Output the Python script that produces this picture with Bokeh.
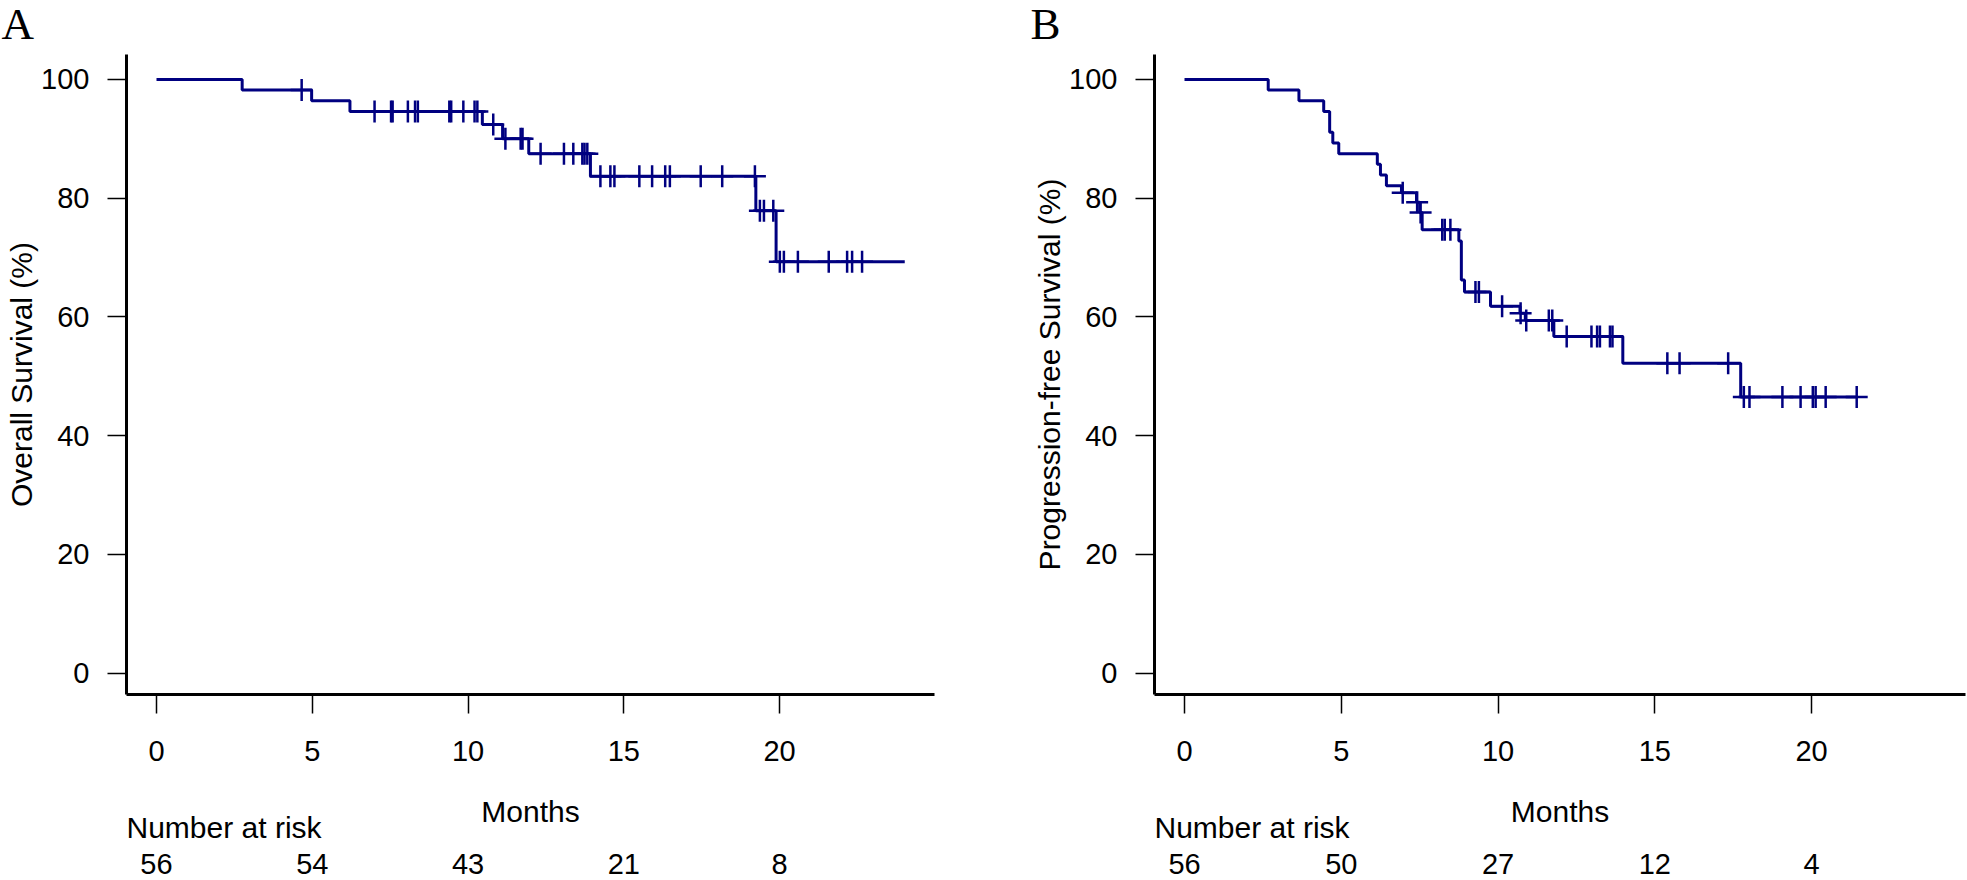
import bisect
from bokeh.plotting import figure
from bokeh.models import Range1d, FixedTicker
from bokeh.layouts import row, column
from bokeh.embed import file_html
from bokeh.resources import INLINE
from bokeh.core.properties import value

# ---------------- data ----------------
x_ticks = [0, 5, 10, 15, 20]
y_ticks = [0, 20, 40, 60, 80, 100]
panel_letters = ["A", "B"]

# Panel A: overall survival (Kaplan-Meier steps)
os_step_months = [0, 2.75, 4.98, 6.21, 10.46, 11.11, 11.95, 13.93, 19.24, 19.89]
os_step_surv = [100, 98.2, 96.4, 94.6, 92.4, 90.0, 87.5, 83.7, 77.9, 69.3]
os_last_month = 24.02
os_censor_months = [4.66, 7.00, 7.53, 7.58, 8.07, 8.30, 8.39, 9.40, 9.46, 9.85,
                    10.21, 10.30, 10.81, 11.20, 11.69, 11.75, 12.33, 13.08, 13.38,
                    13.67, 13.74, 13.83, 14.25, 14.57, 14.70, 15.50, 15.91, 16.33,
                    16.48, 17.47, 18.16, 19.21, 19.37, 19.50, 19.80, 20.01, 20.14,
                    20.59, 21.58, 22.17, 22.33, 22.65]
os_risk_months = [0, 5, 10, 15, 20]
os_at_risk = [56, 54, 43, 21, 8]

# Panel B: progression-free survival
pfs_step_months = [0, 2.67, 3.65, 4.44, 4.63, 4.73, 4.92, 6.15, 6.25, 6.44, 6.92,
                   7.40, 7.50, 7.58, 8.75, 8.83, 8.93, 9.76, 10.70, 10.87, 11.78,
                   13.98, 17.74]
pfs_step_surv = [100, 98.2, 96.4, 94.6, 91.1, 89.3, 87.5, 85.7, 83.9, 82.1, 80.9,
                 79.3, 77.6, 74.7, 72.8, 66.2, 64.2, 61.8, 60.6, 59.4, 56.7, 52.2, 46.5]
pfs_last_month = 21.44
pfs_censor_months = [6.96, 7.42, 7.53, 8.22, 8.30, 8.48, 9.28, 9.39, 10.13, 10.72,
                     10.90, 11.62, 11.73, 12.19, 12.98, 13.16, 13.25, 13.57, 13.65,
                     15.40, 15.79, 17.34, 17.84, 18.02, 19.07, 19.65, 20.04, 20.13,
                     20.45, 21.44]
pfs_risk_months = [0, 5, 10, 15, 20]
pfs_at_risk = [56, 50, 27, 12, 4]

# ---------------- style / layout ----------------
FONT = "Liberation Sans"
SERIF = "Liberation Serif"
NAVY = "#000080"
TOTAL_W = 1967
TOP_H = 54          # strip with the panel letters
MAIN_H = 730        # plot frame (640) + tick labels
MAIN_BOTTOM = 90
BOT_H = 96          # strip with "Months" and the risk table
Y0, Y1 = -3.6, 104.2


def level_at(months, surv, t):
    i = bisect.bisect_right(months, t) - 1
    return surv[i]


def blank(width, height, xr, yr, left=0, right=0):
    p = figure(width=width, height=height, x_range=xr, y_range=yr,
               x_axis_type=None, y_axis_type=None, output_backend="svg",
               toolbar_location=None, min_border_left=left, min_border_right=right,
               min_border_top=0, min_border_bottom=0)
    p.outline_line_color = None
    p.grid.visible = False
    p.background_fill_color = "white"
    p.border_fill_color = "white"
    return p


def km_panel(ylabel, step_months, step_surv, last_month, censor_months,
             risk_months, at_risk, width, left, right, x0, x1):
    xr = Range1d(x0, x1)
    p = figure(width=width, height=MAIN_H, x_range=xr, y_range=Range1d(Y0, Y1),
               output_backend="svg", toolbar_location=None,
               min_border_left=left, min_border_right=right,
               min_border_top=0, min_border_bottom=MAIN_BOTTOM)
    p.outline_line_color = None
    p.grid.visible = False
    p.background_fill_color = "white"
    p.border_fill_color = "white"

    xs = list(step_months) + [last_month]
    ys = list(step_surv) + [step_surv[-1]]
    p.step(xs, ys, mode="after", line_color=NAVY, line_width=3)
    cy = [level_at(step_months, step_surv, t) for t in censor_months]
    p.scatter(censor_months, cy, marker="cross", size=22, line_color=NAVY, line_width=2.5)

    for ax in (p.xaxis[0], p.yaxis[0]):
        ax.axis_line_width = 3
        ax.axis_line_color = "black"
        ax.major_tick_line_width = 1.5
        ax.major_tick_line_color = "black"
        ax.major_tick_in = 0
        ax.major_tick_out = 19
        ax.minor_tick_line_color = None
        ax.major_label_text_font = FONT
        ax.major_label_text_font_size = "29px"
        ax.major_label_text_color = "black"
        ax.axis_label_text_font = FONT
        ax.axis_label_text_font_style = "normal"
        ax.axis_label_text_font_size = "30px"
        ax.axis_label_text_color = "black"
    p.xaxis.ticker = FixedTicker(ticks=x_ticks)
    p.yaxis.ticker = FixedTicker(ticks=y_ticks)
    p.yaxis.axis_label = ylabel
    p.yaxis.major_label_orientation = "horizontal"
    p.xaxis.major_label_standoff = 27
    p.yaxis.major_label_standoff = 18
    p.yaxis.axis_label_standoff = 0

    # strip below: axis title and number-at-risk table, on the same x scale
    b = blank(width, BOT_H, xr, Range1d(0, BOT_H), left=left, right=right)
    b.text(x=[(x0 + x1) / 2], y=[69.2], text=["Months"], text_font=value(FONT),
           text_font_size="30px", text_color="black", text_align="center",
           text_baseline="middle")
    b.text(x=[x0], y=[53.3], text=["Number at risk"], text_font=value(FONT),
           text_font_size="30px", text_color="black", text_align="left",
           text_baseline="middle")
    b.text(x=risk_months, y=[16.7] * len(risk_months), text=[str(n) for n in at_risk],
           text_font=value(FONT), text_font_size="29px", text_color="black",
           text_align="center", text_baseline="middle")
    return p, b


pA, bA = km_panel("Overall Survival (%)", os_step_months, os_step_surv, os_last_month,
                  os_censor_months, os_risk_months, os_at_risk,
                  width=1000, left=126, right=66, x0=-0.963, x1=24.975)
pB, bB = km_panel("Progression-free Survival (%)", pfs_step_months, pfs_step_surv,
                  pfs_last_month, pfs_censor_months, pfs_risk_months, pfs_at_risk,
                  width=967, left=154, right=2, x0=-0.957, x1=24.91)

top = blank(TOTAL_W, TOP_H, Range1d(0, TOTAL_W), Range1d(0, TOP_H))
top.text(x=[1, 1030], y=[31, 31], text=panel_letters, text_font=value(SERIF),
         text_font_size="45px", text_color="black", text_align="left",
         text_baseline="middle")

layout = column(top, row(pA, pB), row(bA, bB))
open("out.html", "w").write(file_html(layout, INLINE))
